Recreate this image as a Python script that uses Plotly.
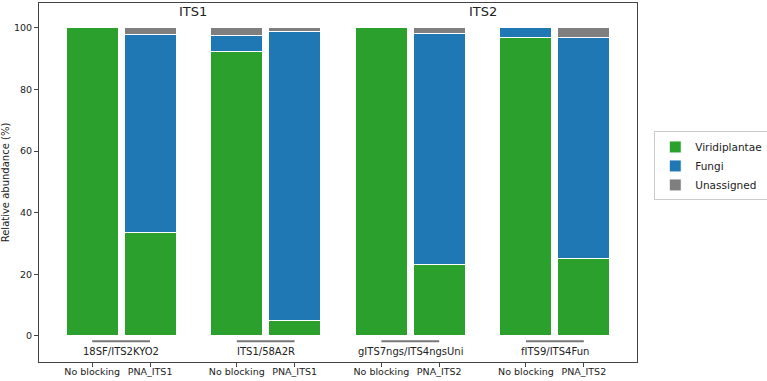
import plotly.graph_objects as go

groups = ["18SF/ITS2KYO2", "ITS1/58A2R", "gITS7ngs/ITS4ngsUni", "fITS9/ITS4Fun"]
conditions = [["No blocking", "PNA_ITS1"], ["No blocking", "PNA_ITS1"],
              ["No blocking", "PNA_ITS2"], ["No blocking", "PNA_ITS2"]]
regions = ["ITS1", "ITS2"]

viridiplantae = [100.0, 33.5, 92.3, 5.0, 100.0, 23.3, 96.8, 25.0]
fungi = [0.0, 64.4, 5.1, 93.8, 0.0, 74.9, 3.2, 71.8]
unassigned = [0.0, 2.1, 2.6, 1.2, 0.0, 1.8, 0.0, 3.2]

GAP = 2.5
xs, labels = [], []
for g, conds in enumerate(conditions):
    for c, name in enumerate(conds):
        xs.append(g * GAP + c)
        labels.append(name)

fig = go.Figure()
series = [("Viridiplantae", viridiplantae, "#2ca02c"),
          ("Fungi", fungi, "#1f77b4"),
          ("Unassigned", unassigned, "#7f7f7f")]
for name, vals, col in series:
    fig.add_trace(go.Bar(x=xs, y=vals, name=name, width=0.9,
                         marker=dict(color=col, line=dict(color="white", width=1))))

ann = []
shapes = []
for g, name in enumerate(groups):
    ann.append(dict(x=g * GAP + 0.5, y=-5.0, xref="x", yref="y", text=name,
                    showarrow=False, font=dict(size=10, color="#222")))
    shapes.append(dict(type="line", xref="x", yref="y", x0=g * GAP, x1=g * GAP + 1,
                       y0=-1.8, y1=-1.8, line=dict(color="#777", width=2)))
for r, name in enumerate(regions):
    ann.append(dict(x=(2 * r) * GAP + (GAP + 1) / 2, y=105.3, xref="x", yref="y",
                    text=name, showarrow=False, font=dict(size=13, color="#222")))

fig.update_layout(
    barmode="stack",
    width=767, height=381,
    margin=dict(l=39, r=130, t=3, b=19),
    paper_bgcolor="white", plot_bgcolor="white",
    font=dict(family="DejaVu Sans", size=10, color="#222"),
    annotations=ann, shapes=shapes,
    legend=dict(xref="container", yref="container", x=0.853, y=0.655,
                xanchor="left", yanchor="top",
                traceorder="normal", bordercolor="#ccc", borderwidth=1,
                font=dict(size=10.5), bgcolor="white"),
    xaxis=dict(range=[-0.92, 9.42], tickvals=xs, ticktext=labels, automargin=False,
               tickangle=0, ticklabelstandoff=-3,
               showgrid=False, zeroline=False, showline=True, mirror=True,
               linecolor="#444", linewidth=1, ticks="outside", ticklen=4,
               tickcolor="#444", tickfont=dict(size=9.5)),
    yaxis=dict(range=[-8.5, 108.1], tickvals=[0, 20, 40, 60, 80, 100], automargin=False,
               showgrid=False, zeroline=False, showline=True, mirror=True,
               linecolor="#444", linewidth=1, ticks="outside", ticklen=4,
               tickcolor="#444", tickfont=dict(size=9.5),
               title=dict(text="Relative abundance (%)", font=dict(size=10), standoff=6)),
)

fig.write_html("out.html")
